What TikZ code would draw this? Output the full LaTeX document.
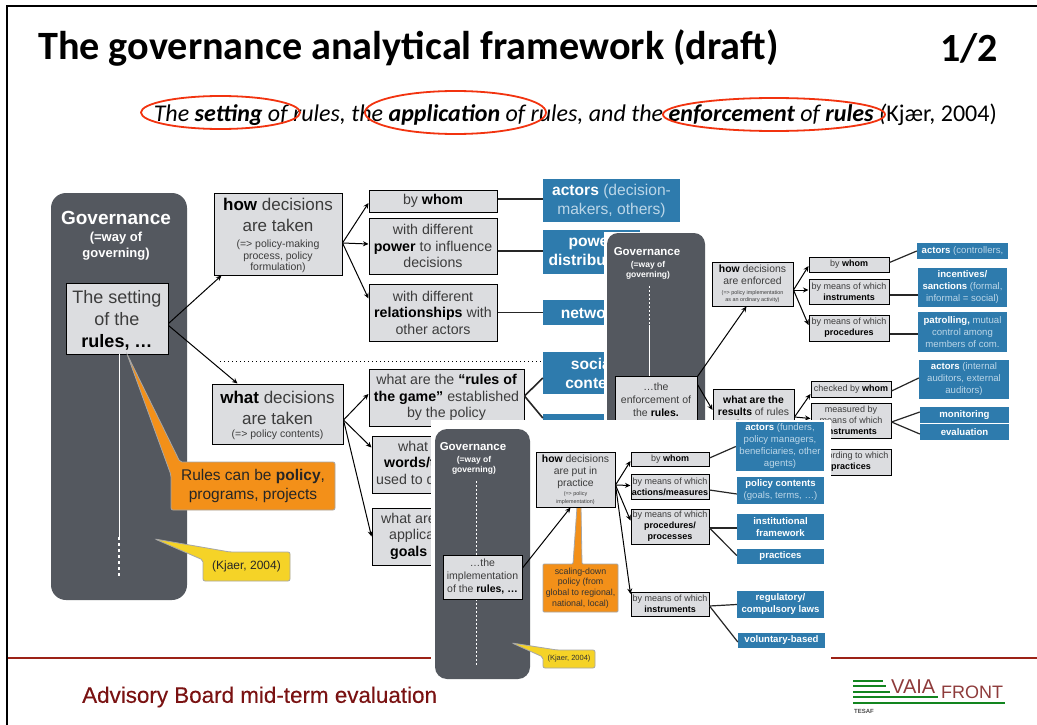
\documentclass[tikz,border=0pt]{standalone}
\usepackage{fontspec}
\setmainfont{Liberation Sans}
\newfontfamily\carl{Carlito}
\newfontfamily\footf[FakeBold=0.25]{Liberation Sans}
\usetikzlibrary{arrows.meta,shadows,shapes.geometric}
\definecolor{panelc}{HTML}{54585F}
\definecolor{boxc}{HTML}{DCDDE0}
\definecolor{bluec}{HTML}{2E7BAD}
\definecolor{lightb}{HTML}{BBD6E8}
\definecolor{orangec}{HTML}{F39019}
\definecolor{yellowc}{HTML}{F5D327}
\definecolor{redc}{HTML}{9C2216}
\definecolor{footc}{HTML}{7A1212}
\definecolor{ringc}{HTML}{F2330F}
\definecolor{textc}{HTML}{3C3C3C}
\definecolor{greenc}{HTML}{12851F}
\definecolor{logoc}{HTML}{8E3B3B}
\newcommand{\B}[1]{\textbf{\color{black}#1}}
\newcommand{\W}[1]{\textbf{\color{white}#1}}
\newcommand{\fnt}[2]{\fontsize{#1}{#2}\selectfont}
\newcommand{\bx}[7]{\node[#2,minimum width={(#5-#3)*1pt},minimum height={(#6-#4)*1pt}] (#1) at ({(#3+#5)/2},{(#4+#6)/2}) {#7};}
\tikzset{
 gbox/.style={draw=black,line width=1pt,fill=boxc,inner sep=0pt,align=center,text=textc,drop shadow={shadow xshift=1.2pt,shadow yshift=-1.2pt,opacity=.35,fill=black}},
 bbox/.style={fill=bluec,inner sep=0pt,align=center,text=lightb},
 panelbox/.style={fill=panelc,rounded corners=#1,inner sep=0pt},
 ptitle/.style={inner sep=0pt,align=center,text=white},
 arr/.style={draw=black,line width=1pt,-{Stealth[length=5.5pt,width=5pt]}},
 lnk/.style={draw=black!85,line width=1.6pt},
 lnks/.style={draw=black!85,line width=1.2pt},
 road/.style={draw=white,line width=1pt},
 roadd/.style={draw=white,line width=1.2pt,dash pattern=on 3pt off 3pt},
 ring/.style={draw=ringc,line width=1.8pt,ellipse,inner sep=0pt},
 callo/.style={draw=black!35,line width=.8pt,fill=orangec,rounded corners=2pt},
 cally/.style={draw=black!35,line width=.8pt,fill=yellowc,rounded corners=2pt},
 lbl/.style={inner sep=0pt,align=center},
 big/.style={font=\fnt{17}{21}},
 sub/.style={font=\fnt{14.2}{16.5}},
 med/.style={font=\fnt{10.4}{12}},
 tiny/.style={font=\fnt{9}{11}},
 blu/.style={font=\fnt{9.6}{12}},
 blg/.style={font=\fnt{15.6}{19}},
}
\begin{document}
\begin{tikzpicture}[x=1pt,y=-1pt]
\useasboundingbox (0,0) rectangle (1037,725);
\fill[white] (0,0) rectangle (1037,725);
% frame
\coordinate (fa) at (7,725); \coordinate (fb) at (7,6); \coordinate (fc) at (1037,6);
\draw[black,line width=2pt] (fa) -- (fb) -- (fc);
\coordinate (ra) at (8,658); \coordinate (rb) at (1037,658);
\draw[redc,line width=2pt] (ra) -- (rb);
% titles
\node[lbl,anchor=west,font=\carl\bfseries\fontsize{40.2}{44}\selectfont] (title) at (38,48) {The governance analytical framework (draft)};
\node[lbl,anchor=east,font=\carl\bfseries\fontsize{40}{44}\selectfont] (page) at (998,48) {1/2};
\node[lbl,anchor=east,font=\fnt{24}{28}] (subt) at (997,115) {{\carl\itshape The \textbf{setting} of rules, the \textbf{application} of rules, and the \textbf{enforcement} of \textbf{rules} (}{\carl Kjær, 2004)}};
\node[ring,minimum width=159pt,minimum height=33pt] (r1) at (220.5,112.5) {};
\node[ring,minimum width=181pt,minimum height=43pt] (r2) at (455.5,112.5) {};
\node[ring,minimum width=222pt,minimum height=33pt] (r3) at (774,114.5) {};
%%%% picture 1
\bx{p1}{panelbox=15}{51}{193}{187}{600}{}
\node[ptitle,font=\bfseries\fnt{19}{21}] (p1t) at (116,218) {Governance};
\node[ptitle,font=\bfseries\fnt{13}{16}] (p1s) at (116,246) {(=way of\\governing)};
\bx{rules}{gbox,font=\fnt{18}{22}}{66}{283}{168}{354}{\rule{0pt}{17pt}The setting\\of the\\\B{rules, …}}
\coordinate (l1a) at (119,354); \coordinate (l1b) at (119,537); \coordinate (l1c) at (119,577);
\draw[road] (l1a) -- (l1b);
\draw[roadd] (l1b) -- (l1c);
\coordinate (ot) at (127,354);
\draw[callo] (171,475) -- (ot) -- (180,462) -- (335,462) -- (335,510) -- (171,510) -- cycle;
\node[lbl,font=\fnt{15.5}{18.5},text=black!85] (ol) at (253,486) {Rules can be \textbf{policy},\\programs, projects};
\coordinate (yt) at (155,539);
\draw[cally] (203,560) -- (yt) -- (230,552) -- (290,552) -- (290,581) -- (203,581) -- cycle;
\node[lbl,font=\fnt{12}{14},text=black!85] (yl) at (246.5,566.5) {(Kjaer, 2004)};
\bx{how}{gbox,big}{214}{193}{342}{275}{\rule{0pt}{16pt}\B{how} decisions\\are taken\\[-5pt]\fnt{10.5}{11.5}(=> policy-making\\[-9.5pt]\fnt{10.5}{11.5}process, policy\\[-9.5pt]\fnt{10.5}{11.5}formulation)}
\bx{what}{gbox,big}{212}{384}{343}{444}{\rule{0pt}{16pt}\B{what} decisions\\are taken\\[-8pt]\fnt{10.5}{11.5}(=> policy contents)}
\draw[arr] ([yshift=-5pt]rules.east) -- ([xshift=8pt]how.south west);
\draw[arr] ([yshift=-7pt]rules.east) -- ([xshift=26pt]what.north west);
\coordinate (dota) at (220,361); \coordinate (dotb) at (543,361);
\draw[black,line width=1pt,dash pattern=on 1.3pt off 2.7pt] (dota) -- (dotb);
\bx{w1}{gbox,sub}{369}{190}{497}{212}{by \B{whom}}
\bx{w2}{gbox,sub}{369}{218}{497}{274}{with different\\\B{power} to influence\\decisions}
\bx{w3}{gbox,sub}{369}{284}{497}{341}{with different\\\B{relationships} with\\other actors}
\bx{w4}{gbox,sub}{369}{369}{524}{426}{what are the \B{“rules of}\\\B{the game”} established\\by the policy}
\bx{w5}{gbox}{372}{436}{520}{493}{}
\node[lbl,anchor=north west,align=left,text=textc,font=\fnt{14.2}{16.5}] (w5t) at (376,441) {\hspace*{22pt}what\\\hspace*{8pt}\B{words/t}\\used to d};
\bx{w6}{gbox}{372}{508}{520}{565}{}
\node[lbl,anchor=north west,align=left,text=textc,font=\fnt{14.2}{16.5}] (w6t) at (381,513) {what are\\\hspace*{8pt}applica\\\hspace*{9pt}\B{goals}};
\draw[arr] ([yshift=-9pt]how.east) -- ([yshift=-2pt]w1.west);
\draw[arr] ([yshift=-9pt]how.east) -- ([yshift=2pt]w2.west);
\draw[arr] ([yshift=-9pt]how.east) -- ([yshift=14pt]w3.west);
\draw[arr] ([yshift=-6pt]what.east) -- ([yshift=3.5pt]w4.west);
\draw[arr] ([yshift=-6pt]what.east) -- ([yshift=17pt]w5.west);
\draw[arr] ([yshift=-6pt]what.east) -- (w6.west);
\bx{b1}{bbox,blg}{543}{179}{680}{222}{\W{actors} (decision-\\makers, others)}
\bx{b2}{bbox,blg}{543}{230}{640}{274}{\W{power}\\\W{distribution}}
\bx{b3}{bbox,blg}{543}{300}{647}{325}{\W{networks}}
\bx{b4}{bbox,blg}{543}{352}{643}{394}{\W{social}\\\W{context}}
\bx{b5}{bbox}{543}{414}{643}{450}{}
\draw[lnk] ([yshift=2pt]w1.east) -- ([yshift=2pt]w1.east -| b1.west);
\draw[lnk] ([yshift=-5pt]w2.east) -- ([yshift=-5pt]w2.east -| b2.west);
\draw[lnk] (w3.east) -- (w3.east -| b3.west);
\draw[lnk] ([yshift=1.5pt]w4.east) -- ([yshift=-5pt]b4.west);
\draw[lnk] ([yshift=1.5pt]w4.east) -- ([yshift=14pt]b5.west);
%%%% picture 2 (pasted on top)
\fill[white] (604,232) rectangle (1012,478);
\bx{p2}{panelbox=11}{607}{233}{705}{440}{}
\node[ptitle,font=\bfseries\fnt{11.5}{13}] (p2t) at (647,251.5) {Governance};
\node[ptitle,font=\bfseries\fnt{8.5}{10}] (p2s) at (648,270) {(=way of\\governing)};
\coordinate (l2a) at (649,286); \coordinate (l2b) at (649,325); \coordinate (l2c) at (649,376);
\draw[white,line width=.8pt,dash pattern=on 2pt off 2pt] (l2a) -- (l2b);
\draw[white,line width=.8pt] (l2b) -- (l2c);
\bx{enf}{gbox,font=\fnt{10.5}{13}}{615}{376}{697}{424}{…the\\enforcement of\\the \B{rules.}}
\bx{how2}{gbox,med}{712}{262}{793}{306}{\B{how} decisions\\are enforced\\[-2pt]\fnt{5.4}{7}(=> policy implementation\\[-5pt]\fnt{5.4}{7}as an ordinary activity)}
\bx{what2}{gbox,med}{713}{389}{794}{435}{\B{what are the}\\\B{results} of rules\\enforcement}
\draw[arr] ([yshift=-1pt]enf.north east) -- ([xshift=35pt]how2.south west);
\draw[arr] ([yshift=-9pt]enf.north east) -- ([yshift=2pt]what2.west);
\bx{x1}{gbox,tiny}{809}{257}{889}{272}{by \B{whom}}
\bx{x2}{gbox,tiny}{809}{279}{889}{304}{by means of which\\\B{instruments}}
\bx{x3}{gbox,tiny}{809}{315}{889}{341}{by means of which\\\B{procedures}}
\bx{x4}{gbox,tiny}{811}{381}{891}{397}{checked by \B{whom}}
\bx{x5}{gbox,tiny}{811}{403}{891}{438}{measured by\\means of which\\\B{instruments}}
\bx{x6}{gbox,tiny}{811}{449}{891}{475}{according to which\\\B{practices}}
\draw[arr] ([yshift=-6pt]how2.east) -- ([yshift=-1.5pt]x1.west);
\draw[arr] ([yshift=-6pt]how2.east) -- ([yshift=1.5pt]x2.west);
\draw[arr] ([yshift=-6pt]how2.east) -- ([yshift=3pt]x3.west);
\draw[arr] ([yshift=-5pt]what2.east) -- ([yshift=-5pt]x4.west);
\draw[arr] ([yshift=-5pt]what2.east) -- ([yshift=2pt]x5.west);
\bx{y1}{bbox,blu}{917}{243}{1008}{259}{\W{actors} (controllers,}
\bx{y2}{bbox,blu}{918}{268}{1007}{307}{\W{incentives/}\\\W{sanctions} (formal,\\informal = social)}
\bx{y3}{bbox,blu}{918}{312}{1007}{352}{\W{patrolling,} mutual\\control among\\members of com.}
\bx{y4}{bbox,blu}{919}{360}{1009}{399}{\W{actors} (internal\\auditors, external\\auditors)}
\bx{y5}{bbox,blu}{920}{407}{1009}{423}{\W{monitoring}}
\bx{y6}{bbox,blu}{920}{424}{1009}{440}{\W{evaluation}}
\draw[lnks] ([yshift=2pt]x1.east) -- (y1.west);
\draw[lnks] ([yshift=-3.5pt]x2.east) -- ([yshift=-7.5pt]y2.west);
\draw[lnks] ([yshift=-6pt]x3.east) -- ([yshift=-2pt]y3.west);
\draw[lnks] ([yshift=-2pt]x4.east) -- ([yshift=1.5pt]y4.west);
\draw[lnks] ([yshift=-1.5pt]x5.east) -- ([yshift=3pt]y5.west);
\draw[lnks] ([yshift=-1.5pt]x5.east) -- ([yshift=-2pt]y6.west);
%%%% picture 3 (pasted on top)
\fill[white] (431,420) rectangle (831,682);
\bx{p3}{panelbox=12}{435}{429}{530}{679}{}
\node[ptitle,font=\bfseries\fnt{11.5}{13}] (p3t) at (473,446.5) {Governance};
\node[ptitle,font=\bfseries\fnt{8.5}{10}] (p3s) at (474,465) {(=way of\\governing)};
\coordinate (l3a) at (476,481); \coordinate (l3b) at (476,555); \coordinate (l3c) at (476,599); \coordinate (l3d) at (476,665);
\draw[white,line width=.9pt,dash pattern=on 2pt off 2pt] (l3a) -- (l3b);
\draw[white,line width=.9pt,dash pattern=on 2pt off 2pt] (l3c) -- (l3d);
\bx{impl}{gbox,font=\fnt{10.5}{13}}{443}{555}{522}{599}{…the\\implementation\\of the \B{rules, …}}
\coordinate (o3) at (579,507);
\draw[callo,rounded corners=1pt] (573,564) -- (577,507) -- (581,507) -- (582,564) -- (618,564) -- (618,612) -- (543,612) -- (543,564) -- cycle;
\node[lbl,font=\fnt{8.8}{10.8},text=black!80] (o3l) at (580.5,588) {scaling-down\\policy (from\\global to regional,\\national, local)};
\coordinate (y3t) at (512,643);
\draw[cally] (543,657) -- (y3t) -- (557,650) -- (595,650) -- (595,668) -- (543,668) -- cycle;
\node[lbl,font=\fnt{7.5}{9},text=black!80] (y3l) at (569,659) {(Kjaer, 2004)};
\bx{how3}{gbox,med}{536}{452}{615}{507}{\B{how} decisions\\are put in\\practice\\[-3pt]\fnt{5.4}{7}(=> policy\\[-4pt]\fnt{5.4}{7}implementation)}
\draw[arr] ([yshift=9pt]impl.east) -- ([xshift=35pt]how3.south west);
\bx{z1}{gbox,tiny}{631}{452}{709}{466}{by \B{whom}}
\bx{z2}{gbox,tiny}{631}{474}{709}{499}{by means of which\\\B{actions/measures}}
\bx{z3}{gbox,tiny}{631}{509}{709}{544}{by means of which\\\B{procedures/}\\\B{processes}}
\bx{z4}{gbox,tiny}{631}{592}{709}{616}{by means of which\\\B{instruments}}
\draw[arr] ([yshift=-5.5pt]how3.east) -- ([yshift=-2pt]z1.west);
\draw[arr] ([yshift=-5.5pt]how3.east) -- ([yshift=1pt]z2.west);
\draw[arr] ([yshift=-5.5pt]how3.east) -- ([yshift=6pt]z3.west);
\draw[arr] ([yshift=-5.5pt]how3.east) -- ([yshift=10pt]z4.west);
\bx{c1}{bbox,blu}{736}{422}{824}{471}{\W{actors} (funders,\\policy managers,\\beneficiaries, other\\agents)}
\bx{c2}{bbox,blu}{737}{477}{824}{504}{\W{policy contents}\\(goals, terms, …)}
\bx{c3}{bbox,blu}{737}{514}{824}{540}{\W{institutional}\\\W{framework}}
\bx{c4}{bbox,blu}{737}{549}{824}{564}{\W{practices}}
\bx{c5}{bbox,blu}{737}{591}{824}{618}{\W{regulatory/}\\\W{compulsory laws}}
\bx{c6}{bbox,blu}{738}{633}{825}{648}{\W{voluntary-based}}
\draw[lnks] ([yshift=1pt]z1.east) -- (c1.west);
\draw[lnks] ([yshift=-3.5pt]z2.east) -- ([yshift=-3.5pt]c2.west);
\draw[lnks] ([yshift=-1.5pt]z3.east) -- ([yshift=-1pt]c3.west);
\draw[lnks] ([yshift=-1.5pt]z3.east) -- ([yshift=1pt]c4.west);
\draw[lnks] ([yshift=-2pt]z4.east) -- (c5.west);
\draw[lnks] ([yshift=-2pt]z4.east) -- ([yshift=-1.5pt]c6.west);
%%%% footer
\node[lbl,anchor=west,text=footc,font=\footf\fnt{22.4}{24}] (foot) at (82,697) {Advisory Board mid-term evaluation};
\foreach \xa/\ya in {883/681,886/686,890/692,938/697,1005/703}{\draw[greenc,line width=2.4pt] (853,\ya) -- (\xa,\ya);}
\node[lbl,anchor=west,text=logoc,font=\fnt{20}{20}] (vaia) at (891,687) {VAIA};
\node[lbl,anchor=west,text=logoc,font=\fnt{18}{20}] (front) at (941,692) {FRONT};
\node[lbl,anchor=west,text=black!70,font=\bfseries\fnt{6}{7}] (tesaf) at (854,711) {TESAF};
\end{tikzpicture}
\end{document}
